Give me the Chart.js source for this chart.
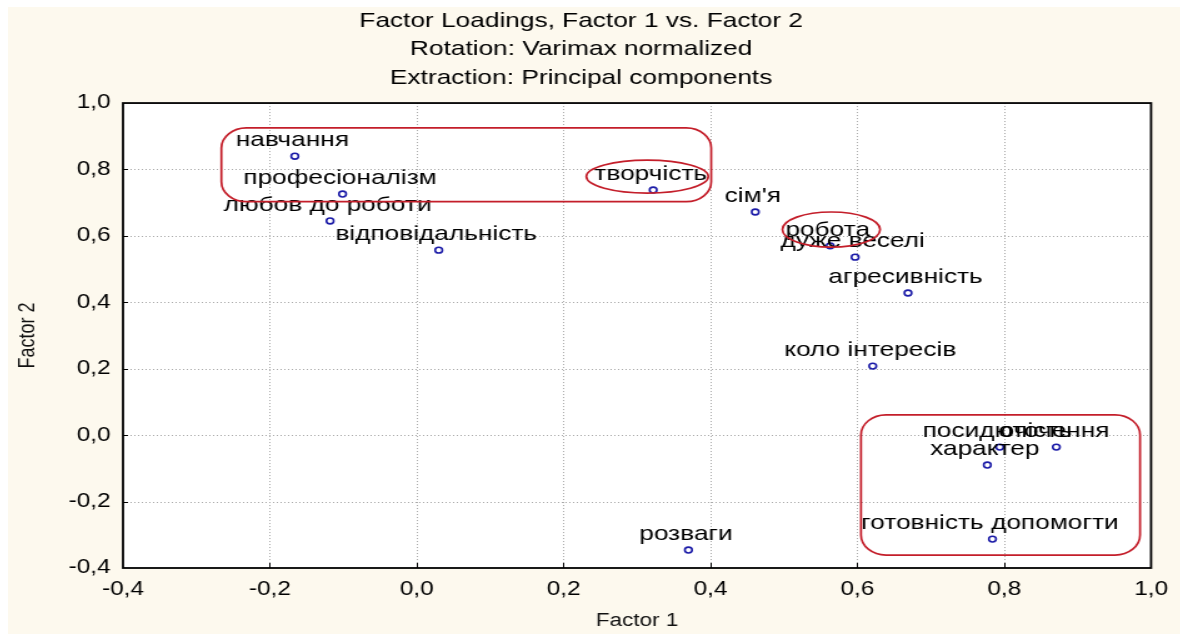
<!DOCTYPE html>
<html><head><meta charset="utf-8">
<script src="https://cdn.jsdelivr.net/npm/chart.js@4.4.1/dist/chart.umd.min.js"></script>
<style>
html,body{margin:0;padding:0;background:#fff;width:1180px;height:634px;overflow:hidden}
#wrap{position:absolute;left:8px;top:7px;width:938px;height:627px;transform:scaleX(1.25);transform-origin:0 0}
canvas{display:block}
</style></head><body>
<div id="wrap"><canvas id="c" width="938" height="627"></canvas></div>
<script>
const variables = ['навчання','професіоналізм','любов до роботи','відповідальність','творчість','сім\'я','робота','дуже веселі','агресивність','коло інтересів','посидючість','оточення','характер','готовність допомогти','розваги'];
const factor1 = [-0.166,-0.101,-0.118,0.030,0.322,0.461,0.563,0.597,0.669,0.621,0.794,0.871,0.777,0.784,0.370];
const factor2 = [0.840,0.726,0.645,0.557,0.738,0.672,0.570,0.536,0.428,0.208,-0.036,-0.036,-0.090,-0.313,-0.346];
const xTicks = [-0.4,-0.2,0.0,0.2,0.4,0.6,0.8,1.0];
const yTicks = [-0.4,-0.2,0.0,0.2,0.4,0.6,0.8,1.0];
const titleLines = ['Factor Loadings, Factor 1 vs. Factor 2','Rotation: Varimax normalized','Extraction: Principal components'];
const xTitle = 'Factor 1';
const yTitle = 'Factor 2';
// highlighted groups (data units)
const groupShapes = ['round','ellipse','ellipse','round'];
const groupX1 = [-0.266, 0.231, 0.498, 0.605];
const groupX2 = [0.401, 0.397, 0.631, 0.985];
const groupY1 = [0.925, 0.828, 0.672, 0.061];
const groupY2 = [0.703, 0.729, 0.566, -0.361];

const FONT = "'Liberation Sans', Arial, sans-serif";
const fmt = v => (Math.round(v*10)/10).toFixed(1).replace('.', ',');

const bgPlugin = {
  id:'bg',
  beforeDraw(chart){
    const {ctx, chartArea:a} = chart;
    ctx.save();
    ctx.fillStyle = '#fdf9ee';
    ctx.fillRect(0,0,chart.width,chart.height);
    ctx.fillStyle = '#ffffff';
    ctx.fillRect(a.left,a.top,a.right-a.left,a.bottom-a.top);
    ctx.restore();
  },
  beforeDatasetsDraw(chart){
    const {ctx, chartArea:a, scales:{x,y}} = chart;
    ctx.save();
    ctx.strokeStyle = '#a8a8a8';
    ctx.lineWidth = 1;
    ctx.setLineDash([1,2]);
    xTicks.slice(1,-1).forEach(v=>{
      const px = Math.round(x.getPixelForValue(v))+0.5;
      ctx.beginPath(); ctx.moveTo(px,a.top); ctx.lineTo(px,a.bottom); ctx.stroke();
    });
    yTicks.slice(1,-1).forEach(v=>{
      const py = Math.round(y.getPixelForValue(v))+0.5;
      ctx.beginPath(); ctx.moveTo(a.left,py); ctx.lineTo(a.right,py); ctx.stroke();
    });
    ctx.restore();
  },
  afterDatasetsDraw(chart){
    const {ctx, chartArea:a, scales:{x,y}} = chart;
    const meta = chart.getDatasetMeta(0);
    ctx.save();
    // point labels
    ctx.fillStyle = '#000';
    ctx.font = "21px " + FONT;
    ctx.textAlign = 'center';
    ctx.textBaseline = 'middle';
    meta.data.forEach((pt,i)=>{
      ctx.fillText(variables[i], pt.x - 2, pt.y - 16);
    });
    // red group outlines
    ctx.strokeStyle = '#c41e2a';
    ctx.lineWidth = 1.7;
    groupShapes.forEach((s,i)=>{
      const l = x.getPixelForValue(groupX1[i]), r = x.getPixelForValue(groupX2[i]);
      const t = y.getPixelForValue(groupY1[i]), b = y.getPixelForValue(groupY2[i]);
      ctx.beginPath();
      if (s==='ellipse') ctx.ellipse((l+r)/2,(t+b)/2,(r-l)/2,(b-t)/2,0,0,Math.PI*2);
      else ctx.roundRect(l,t,r-l,b-t,20);
      ctx.stroke();
    });
    // frame
    ctx.strokeStyle = '#000';
    ctx.lineWidth = 1.8;
    ctx.strokeRect(a.left,a.top,a.right-a.left,a.bottom-a.top);
    ctx.lineWidth = 1;
    xTicks.slice(1,-1).forEach(v=>{
      const px = Math.round(x.getPixelForValue(v))+0.5;
      ctx.beginPath(); ctx.moveTo(px,a.bottom); ctx.lineTo(px,a.bottom-5); ctx.stroke();
    });
    yTicks.slice(1,-1).forEach(v=>{
      const py = Math.round(y.getPixelForValue(v))+0.5;
      ctx.beginPath(); ctx.moveTo(a.left,py); ctx.lineTo(a.left+4,py); ctx.stroke();
    });
    ctx.restore();
  }
};

new Chart(document.getElementById('c'), {
  type:'scatter',
  data:{
    datasets:[{
      data: factor1.map((v,i)=>({x:v, y:factor2[i]})),
      pointStyle:'circle',
      pointRadius:2.9,
      pointBorderWidth:1.6,
      pointBorderColor:'#1c1ca8',
      pointBackgroundColor:'rgba(255,255,255,0)'
    }]
  },
  options:{
    responsive:false,
    animation:false,
    devicePixelRatio:1,
    layout:{padding:{left:0,right:21,top:0,bottom:0}},
    plugins:{
      legend:{display:false},
      tooltip:{enabled:false},
      title:{
        display:true,
        text:titleLines,
        color:'#000',
        font:{family:FONT,size:21,weight:'normal',lineHeight:1.35},
        padding:{top:0,bottom:11}
      }
    },
    scales:{
      x:{
        type:'linear', min:-0.4, max:1.0,
        afterBuildTicks(s){ s.ticks = xTicks.map(v=>({value:v})); },
        afterFit(s){ s.height = 66; },
        grid:{display:false, drawTicks:false},
        border:{display:false},
        ticks:{padding:10, color:'#000', font:{family:FONT,size:19.5}, maxRotation:0, autoSkip:false, callback:v=>fmt(v)},
        title:{display:true, text:xTitle, color:'#111', font:{family:FONT,size:18}, padding:{top:0,bottom:2}}
      },
      y:{
        type:'linear', min:-0.4, max:1.0,
        afterBuildTicks(s){ s.ticks = yTicks.map(v=>({value:v})); },
        afterFit(s){ s.width = 92; },
        grid:{display:false, drawTicks:false},
        border:{display:false},
        ticks:{padding:10, color:'#000', font:{family:FONT,size:19.5}, autoSkip:false, callback:v=>fmt(v)},
        title:{display:true, text:yTitle, color:'#111', font:{family:FONT,size:18}, padding:{top:5,bottom:0}}
      }
    }
  },
  plugins:[bgPlugin]
});
</script>
</body></html>
